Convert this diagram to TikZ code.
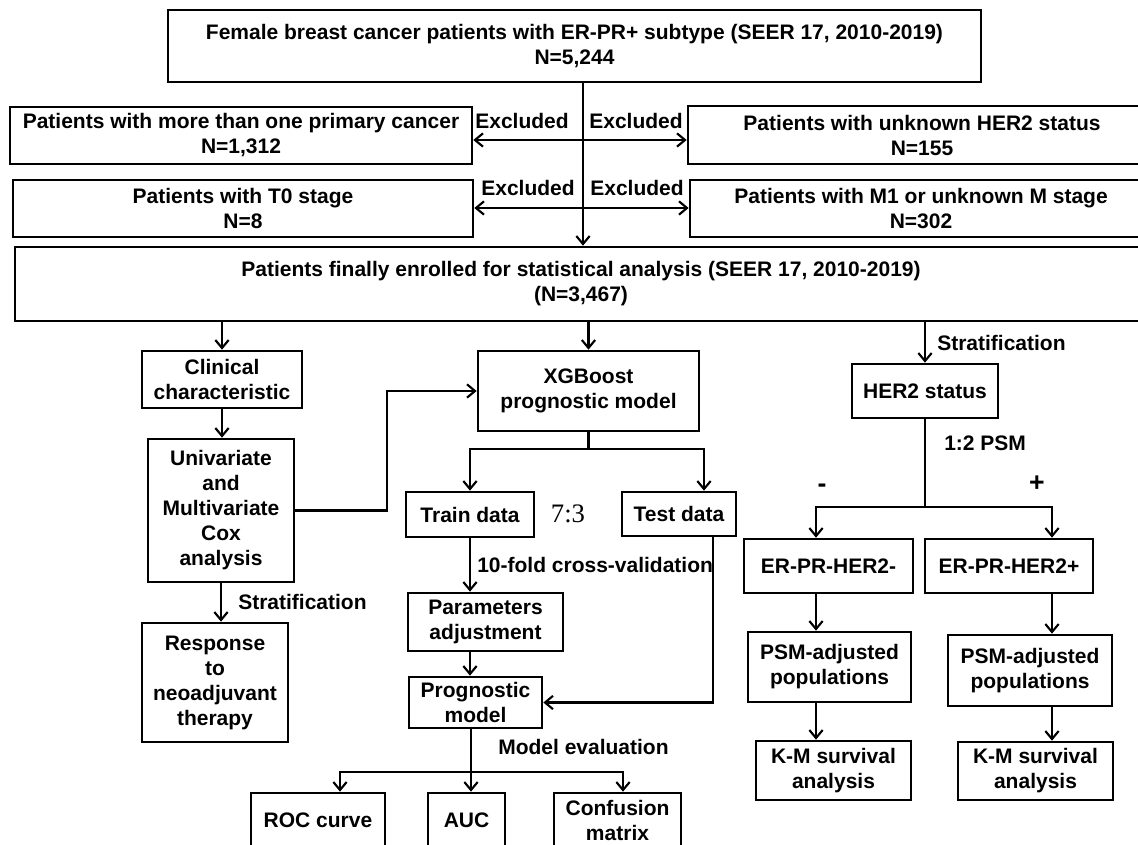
\documentclass[tikz,border=0pt]{standalone}
\usepackage{fontspec}
\setmainfont{Liberation Sans}
\newfontfamily\ratiofont{Liberation Serif}
\usetikzlibrary{arrows.meta}

\begin{document}
\begin{tikzpicture}[x=0.75pt,y=-0.75pt,
        box/.style={draw,line width=2pt,align=center,inner sep=0pt,font=\fontsize{15.75}{18.75}\selectfont\bfseries},
        lbl/.style={inner sep=0pt,font=\fontsize{15.75}{18.75}\selectfont\bfseries},
        sign/.style={inner sep=0pt,font=\fontsize{20}{22}\selectfont\bfseries},
        arr/.style={line width=1.6pt,arrows=-{Straight Barb[length=6pt,width=10pt]}},
        ln/.style={line width=1.6pt}]
        %   \draw [help lines] (0,0) grid (1138,845);
        \useasboundingbox (0,0) rectangle (1138,845);
        \clip (0,0) rectangle (1138,845);

        % lanes for the connectors
        \coordinate (spine) at (583,0);
        \coordinate (row1) at (0,140);
        \coordinate (row2) at (0,208);
        \coordinate (bend) at (387,0);
        \coordinate (split1) at (0,449);
        \coordinate (testlane) at (704,0);
        \coordinate (testdown) at (713,0);
        \coordinate (evlane) at (471,0);
        \coordinate (split2) at (0,772);
        \coordinate (roclane) at (340,0);
        \coordinate (conflane) at (623,0);
        \coordinate (split3) at (0,507);
        \coordinate (neglane) at (816,0);
        \coordinate (poslane) at (1052,0);

        \node [box,minimum width=609.75pt,minimum height=54pt] (top) at (574.5,46)
        {Female breast cancer patients with ER-PR+ subtype (SEER 17, 2010-2019)\\N=5,244};

        \node [box,minimum width=346.5pt,minimum height=42.75pt] (multi) at (241,135.5)
        {Patients with more than one primary cancer\\N=1,312};
        \node [box,minimum width=351pt,minimum height=43.5pt] (her2unk) at (922,135)
        {Patients with unknown HER2 status\\N=155};
        \node [box,minimum width=345pt,minimum height=42.75pt] (tzero) at (243,208.5)
        {Patients with T0 stage\\N=8};
        \node [box,minimum width=346.5pt,minimum height=42.75pt] (mone) at (921,208.5)
        {Patients with M1 or unknown M stage\\N=302};

        \node [box,minimum width=849pt,minimum height=55.5pt] (enrolled) at (581,284)
        {Patients finally enrolled for statistical analysis (SEER 17, 2010-2019)\\(N=3,467)};

        \node [lbl] (ex1L) at (522,121) {Excluded};
        \node [lbl] (ex1R) at (636,121) {Excluded};
        \node [lbl] (ex2L) at (528,188) {Excluded};
        \node [lbl] (ex2R) at (637,188) {Excluded};

        \node [box,minimum width=120pt,minimum height=42.75pt] (clin) at (222,379.5)
        {Clinical\\characteristic};
        \node [box,minimum width=109.5pt,minimum height=107.25pt] (cox) at (221,510.5)
        {Univariate\\and\\Multivariate\\Cox\\analysis};
        \node [box,minimum width=109.5pt,minimum height=89.25pt] (resp) at (215,682.5)
        {Response\\to\\neoadjuvant\\therapy};
        \node [lbl,anchor=west] (strat2) at (238,602) {Stratification};

        \node [box,minimum width=165.75pt,minimum height=60pt] (xgb) at (588.5,391)
        {XGBoost\\prognostic model};
        \node [box,minimum width=96pt,minimum height=33.75pt] (train) at (470,514.5) {Train data};
        \node [box,minimum width=85.5pt,minimum height=33pt] (test) at (679,514) {Test data};
        \node [inner sep=0pt,font=\ratiofont\fontsize{20}{22}\selectfont] (ratio) at (568,514) {7:3};
        \node [lbl,anchor=west] (cv) at (477,565) {10-fold cross-validation};
        \node [box,minimum width=116.25pt,minimum height=43.5pt] (param) at (485.5,622)
        {Parameters\\adjustment};
        \node [box,minimum width=99.75pt,minimum height=38.25pt] (prog) at (475.5,702.5)
        {Prognostic\\model};
        \node [lbl,anchor=west] (meval) at (498,747) {Model evaluation};
        \node [box,minimum width=100.5pt,minimum height=40.5pt] (roc) at (318,820) {ROC curve};
        \node [box,minimum width=57.75pt,minimum height=40.5pt] (auc) at (466.5,820) {AUC};
        \node [box,minimum width=95.25pt,minimum height=40.5pt] (conf) at (617.5,820)
        {Confusion\\matrix};

        \node [lbl,anchor=west] (strat1) at (937,343) {Stratification};
        \node [box,minimum width=109.5pt,minimum height=40.5pt] (her2) at (925,391) {HER2 status};
        \node [lbl,anchor=west] (psm) at (944,443) {1:2 PSM};
        \node [sign] (minus) at (822,488) {-};
        \node [sign] (plus) at (1037,484) {+};
        \node [box,minimum width=126.75pt,minimum height=40.5pt] (erneg) at (828.5,566) {ER-PR-HER2-};
        \node [box,minimum width=126pt,minimum height=40.5pt] (erpos) at (1009,566) {ER-PR-HER2+};
        \node [box,minimum width=122.25pt,minimum height=52.5pt] (psmL) at (829.5,667)
        {PSM-adjusted\\populations};
        \node [box,minimum width=123pt,minimum height=53.25pt] (psmR) at (1030,670.5)
        {PSM-adjusted\\populations};
        \node [box,minimum width=116.25pt,minimum height=44.25pt] (kmL) at (833.5,770.5)
        {K-M survival\\analysis};
        \node [box,minimum width=116.25pt,minimum height=43.5pt] (kmR) at (1035.5,771)
        {K-M survival\\analysis};

        % exclusions
        \draw[arr] (top.south -| spine) -- (enrolled.north -| spine);
        \draw[arr] (spine |- row1) -- (multi.east |- row1);
        \draw[arr] (spine |- row1) -- (her2unk.west |- row1);
        \draw[arr] (spine |- row2) -- (tzero.east |- row2);
        \draw[arr] (spine |- row2) -- (mone.west |- row2);

        % left branch
        \draw[arr] (enrolled.south -| clin) -- (clin.north);
        \draw[arr] (clin.south) -- (clin.south |- cox.north);
        \draw[arr] (cox.east) -- (cox.east -| bend) |- (xgb.west);
        \draw[arr] (cox.south) -- (cox.south |- resp.north);

        % middle branch
        \draw[arr] (enrolled.south -| xgb) -- (xgb.north);
        \draw[ln] (xgb.south) -- (xgb.south |- split1);
        \draw[arr] (xgb.south |- split1) -| (train.north);
        \draw[arr] (xgb.south |- split1) -| (testlane |- test.north);
        \draw[arr] (train.south) -- (train.south |- param.north);
        \draw[arr] (param.south -| train) -- (prog.north -| train);
        \draw[arr] (test.south -| testdown) |- (prog.east);
        \draw[ln] (prog.south -| evlane) -- (evlane |- split2);
        \draw[arr] (evlane |- split2) -| (roclane |- roc.north);
        \draw[arr] (evlane |- split2) -- (auc.north -| evlane);
        \draw[arr] (evlane |- split2) -| (conflane |- conf.north);

        % right branch
        \draw[arr] (enrolled.south -| her2) -- (her2.north);
        \draw[ln] (her2.south) -- (her2.south |- split3);
        \draw[arr] (her2.south |- split3) -| (neglane |- erneg.north);
        \draw[arr] (her2.south |- split3) -| (poslane |- erpos.north);
        \draw[arr] (erneg.south -| neglane) -- (psmL.north -| neglane);
        \draw[arr] (psmL.south -| neglane) -- (kmL.north -| neglane);
        \draw[arr] (erpos.south -| poslane) -- (psmR.north -| poslane);
        \draw[arr] (psmR.south -| poslane) -- (kmR.north -| poslane);
\end{tikzpicture}
\end{document}
